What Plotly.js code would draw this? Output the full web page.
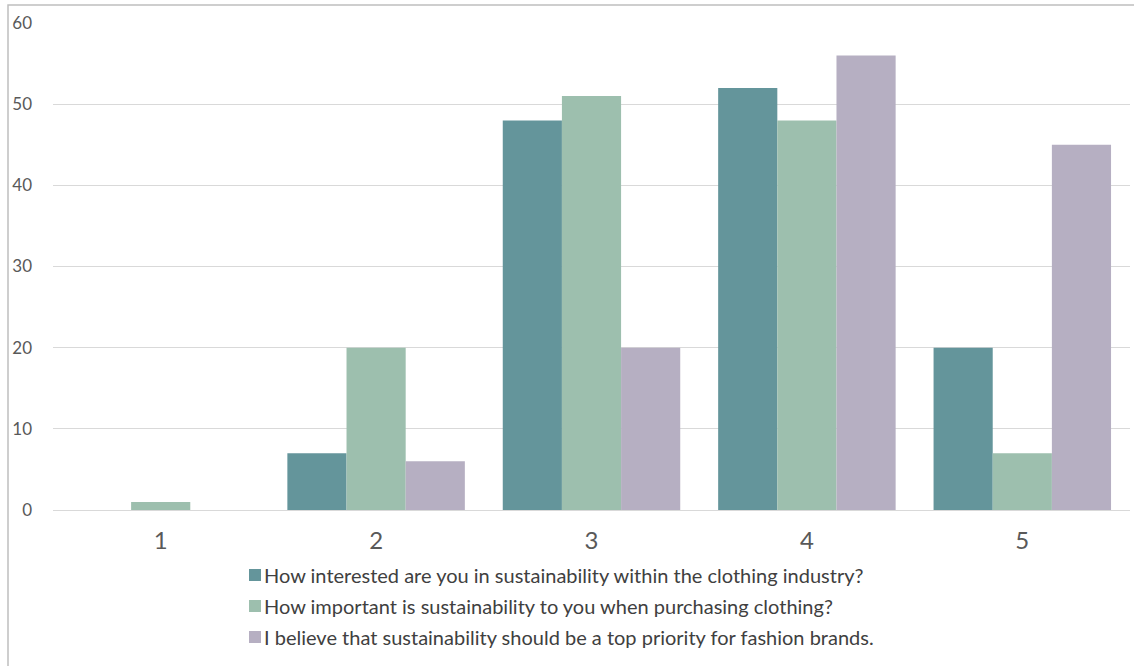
<!DOCTYPE html>
<html>
<head>
<meta charset="utf-8">
<script src="https://cdn.plot.ly/plotly-3.0.1.min.js"></script>
<style>
  html, body { margin: 0; padding: 0; background: #fff; }
  #chart { width: 1134px; height: 666px; }
</style>
</head>
<body>
<div id="chart"></div>
<script>
// Survey answers on a 1–5 scale, counts of respondents per answer
const categories = ['1', '2', '3', '4', '5'];
const interested = [0, 7, 48, 52, 20];
const important = [1, 20, 51, 48, 7];
const priority = [0, 6, 20, 56, 45];
const seriesNames = [
  'How interested are you in sustainability within the clothing industry?',
  'How important is sustainability to you when purchasing clothing?',
  'I believe that sustainability should be a top priority for fashion brands.'
];
const seriesColors = ['#64959b', '#9dbfae', '#b6afc2'];
const seriesValues = [interested, important, priority];

const W = 1134, H = 666;
const M = { l: 53, r: 4, t: 23, b: 156 };
const plotW = W - M.l - M.r, plotH = H - M.t - M.b;
// pixel helpers for the hand-built legend below the axis
const px2x = (px) => (px - M.l) / plotW;
const px2y = (py) => (H - M.b - py) / plotH;

const traces = seriesValues.map((vals, i) => ({
  type: 'bar',
  x: categories,
  y: vals,
  name: seriesNames[i],
  marker: { color: seriesColors[i], line: { width: 0 } },
  hoverinfo: 'x+y'
}));

// legend: a coloured square and a label per series, stacked
const legendRows = [575, 606, 637];
const legendShapes = seriesNames.map((_, i) => ({
  type: 'rect', xref: 'paper', yref: 'paper',
  x0: px2x(249), x1: px2x(261),
  y0: px2y(legendRows[i] + 6), y1: px2y(legendRows[i] - 6),
  fillcolor: seriesColors[i], line: { width: 0 }
}));
const legendLabels = seriesNames.map((name, i) => ({
  xref: 'paper', yref: 'paper',
  x: px2x(262), y: px2y(legendRows[i]),
  xanchor: 'left', yanchor: 'middle',
  text: name, showarrow: false,
  font: { size: 20, color: '#404040' }
}));

const layout = {
  width: W,
  height: H,
  paper_bgcolor: '#ffffff',
  plot_bgcolor: '#ffffff',
  font: { family: 'Lato, "Open Sans", sans-serif', color: '#595959' },
  margin: M,
  barmode: 'group',
  bargap: 0.176,
  bargroupgap: 0,
  showlegend: false,
  xaxis: {
    type: 'category',
    showgrid: false,
    zeroline: false,
    showline: false,
    ticks: '',
    tickfont: { size: 24, color: '#595959' },
    ticklabelstandoff: 14
  },
  yaxis: {
    range: [0, 60],
    dtick: 10,
    showgrid: true,
    gridcolor: '#d9d9d9',
    gridwidth: 1,
    zeroline: true,
    zerolinecolor: '#d9d9d9',
    zerolinewidth: 1,
    showline: false,
    ticks: '',
    tickfont: { size: 17, color: '#595959' },
    ticklabelstandoff: 20
  },
  annotations: legendLabels,
  shapes: [{
    type: 'rect', xref: 'paper', yref: 'paper',
    x0: px2x(8), x1: px2x(1300), y0: -1, y1: px2y(5),
    line: { color: '#bfbfbf', width: 1.5 },
    fillcolor: 'rgba(0,0,0,0)', layer: 'below'
  }].concat(legendShapes)
};

Plotly.newPlot('chart', traces, layout, { displayModeBar: false, staticPlot: true });
</script>
</body>
</html>
